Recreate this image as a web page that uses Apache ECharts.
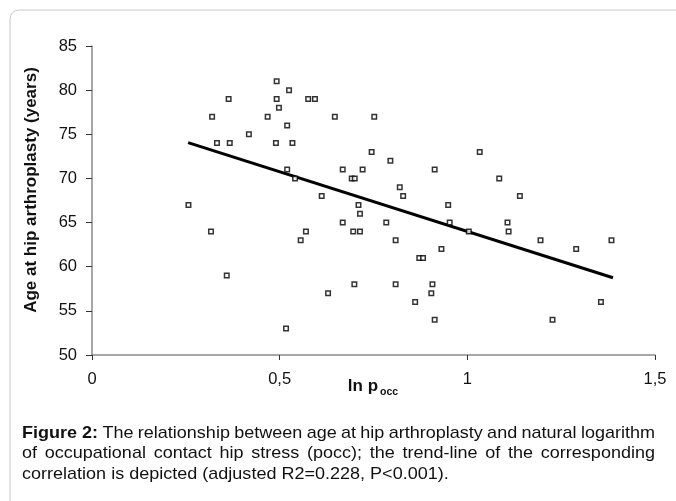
<!DOCTYPE html>
<html>
<head>
<meta charset="utf-8">
<script src="https://cdn.jsdelivr.net/npm/echarts@6/dist/echarts.min.js"></script>
<style>
  html, body { margin: 0; padding: 0; background: #fff; }
  #chart { width: 676px; height: 501px; }
</style>
</head>
<body>
<div id="chart"></div>
<script>
// ln p_occ vs age at hip arthroplasty
const lnPocc = [
  0.257, 0.317, 0.320, 0.333, 0.359, 0.364, 0.367, 0.418, 0.468, 0.492,
  0.492, 0.498, 0.490, 0.525, 0.520, 0.534, 0.520, 0.541, 0.517, 0.556,
  0.570, 0.576, 0.594, 0.612, 0.629, 0.647, 0.668, 0.668, 0.692, 0.700,
  0.696, 0.699, 0.710, 0.714, 0.714, 0.721, 0.745, 0.752, 0.784, 0.795,
  0.809, 0.809, 0.820, 0.829, 0.861, 0.872, 0.882, 0.904, 0.907, 0.913,
  0.913, 0.931, 0.949, 0.953, 1.004, 1.033, 1.085, 1.107, 1.110, 1.140,
  1.195, 1.227, 1.290, 1.356, 1.384
];
const age = [
  67, 64, 77, 74, 59, 79, 74, 75, 77, 81,
  79, 78, 74, 80, 76, 74, 71, 70, 53, 63,
  64, 79, 79, 68, 57, 77, 71, 65, 70, 70,
  64, 58, 67, 66, 64, 71, 73, 77, 65, 72,
  63, 58, 69, 68, 56, 61, 61, 57, 58, 71,
  54, 62, 67, 65, 64, 73, 70, 65, 64, 68,
  63, 54, 62, 56, 63
];
const trendX = [0.256, 1.388];
const trendY = [74.05, 58.75];

const xTicks = { min: 0, max: 1.5, step: 0.5 };
const yTicks = { min: 50, max: 85, step: 5 };

// caption lines; the first word group of line 1 is bold
const captionLines = [
  ['Figure 2:', 'The relationship between age at hip arthroplasty and natural logarithm'],
  ['', 'of occupational contact hip stress (pocc); the trend-line of the corresponding'],
  ['', 'correlation is depicted (adjusted R2=0.228, P<0.001).']
];

const chart = echarts.init(document.getElementById('chart'), null, { renderer: 'canvas' });

const font = 'Liberation Sans, Arial, sans-serif';
const axisGrey = '#8a8a8a';
const capSize = 17;
const capStretch = 1.06;
const capLeft = 22, capRight = 655;

// justify caption lines (all but the last) by spreading the word gaps
const ctx = document.createElement('canvas').getContext('2d');
function measure(text, bold) {
  ctx.font = (bold ? 'bold ' : '') + capSize + 'px ' + font;
  return ctx.measureText(text).width * capStretch;
}
const captionGraphics = [];
captionLines.forEach((line, i) => {
  const words = [];
  if (line[0]) words.push({ t: line[0], b: true });
  line[1].split(' ').forEach(w => words.push({ t: w, b: false }));
  const widths = words.map(w => measure(w.t, w.b));
  const space = measure(' ', false);
  const natural = widths.reduce((a, b) => a + b, 0) + space * (words.length - 1);
  const last = i === captionLines.length - 1;
  const gap = last ? space : space + (capRight - capLeft - natural) / (words.length - 1);
  let x = capLeft;
  words.forEach((w, k) => {
    captionGraphics.push({
      type: 'text',
      x: x, y: 433 + i * 20.5, scaleX: capStretch,
      style: {
        text: w.t, fontFamily: font, fontSize: capSize,
        fontWeight: w.b ? 'bold' : 'normal', fill: '#111',
        verticalAlign: 'middle'
      }
    });
    x += widths[k] + gap;
  });
});

chart.setOption({
  animation: false,
  backgroundColor: '#fff',
  grid: { left: 92, right: 21, top: 46, bottom: 146 },
  xAxis: {
    type: 'value',
    min: xTicks.min, max: xTicks.max, interval: xTicks.step,
    splitLine: { show: false },
    axisLine: { show: true, onZero: false, lineStyle: { color: axisGrey, width: 1.5 } },
    axisTick: { show: true, length: 5, lineStyle: { color: '#333' } },
    axisLabel: {
      color: '#111', fontFamily: font, fontSize: 16.5, margin: 16,
      formatter: v => String(v).replace('.', ',')
    }
  },
  yAxis: {
    type: 'value',
    min: yTicks.min, max: yTicks.max, interval: yTicks.step,
    splitLine: { show: false },
    axisLine: { show: true, lineStyle: { color: axisGrey, width: 1.5 } },
    axisTick: { show: true, length: 6, lineStyle: { color: '#333' } },
    axisLabel: { color: '#111', fontFamily: font, fontSize: 16.5, margin: 15 }
  },
  series: [
    {
      type: 'scatter',
      data: lnPocc.map((x, i) => [x, age[i]]),
      symbol: 'rect',
      symbolSize: 4.5,
      itemStyle: { color: '#fff', borderColor: '#000', borderWidth: 1.5 }
    },
    {
      type: 'line',
      data: trendX.map((x, i) => [x, trendY[i]]),
      showSymbol: false,
      lineStyle: { color: '#000', width: 3 },
      z: 1
    }
  ],
  graphic: [
    {
      type: 'rect',
      shape: { x: 10, y: 10, width: 700, height: 520, r: 9 },
      style: { fill: 'none', stroke: '#c8c8c8', lineWidth: 1 },
      silent: true
    },
    {
      type: 'text',
      x: 31, y: 190, rotation: Math.PI / 2,
      style: {
        text: 'Age at hip arthroplasty (years)',
        fontFamily: font, fontSize: 17, fontWeight: 'bold', fill: '#111',
        align: 'center', verticalAlign: 'middle'
      }
    },
    {
      type: 'text',
      x: 373, y: 386,
      style: {
        text: '{m|ln p}{s|occ}',
        align: 'center', verticalAlign: 'middle',
        rich: {
          m: { fontFamily: font, fontSize: 17, fontWeight: 'bold', fill: '#111' },
          s: { fontFamily: font, fontSize: 10.5, fontWeight: 'bold', fill: '#111', padding: [12, 0, 0, 2] }
        }
      }
    },
    ...captionGraphics
  ]
});
</script>
</body>
</html>
